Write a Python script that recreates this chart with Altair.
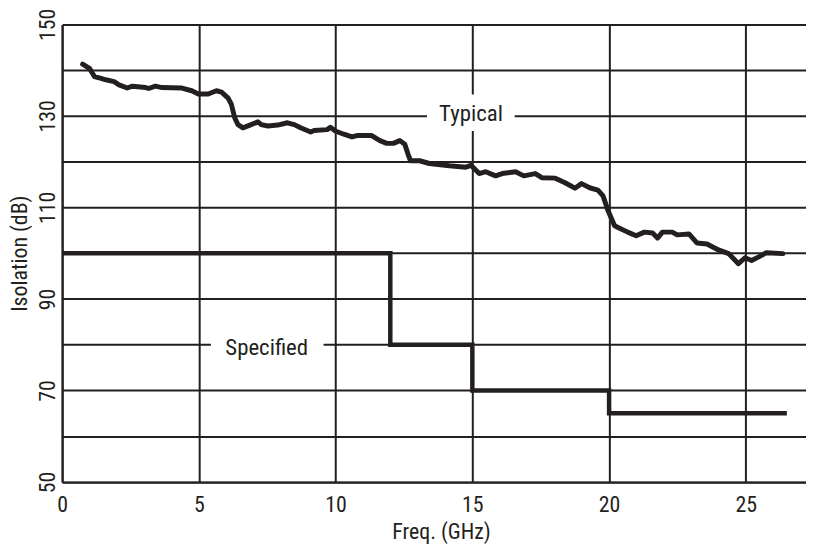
import altair as alt
import pandas as pd

# ---- data ----
typ_freq = [0.75, 1.00, 1.18, 1.36, 1.60, 1.90, 2.08, 2.38, 2.57, 3.05,
            3.17, 3.41, 3.65, 4.38, 4.74, 4.98, 5.34, 5.64, 5.83, 6.07,
            6.19, 6.31, 6.43, 6.61, 6.91, 7.16, 7.28, 7.52, 7.88, 8.24,
            8.49, 8.72, 9.09, 9.21, 9.69, 9.81, 9.99, 10.30, 10.60, 10.78,
            11.32, 11.62, 11.87, 12.11, 12.35, 12.53, 12.65, 12.74, 13.07, 13.43,
            14.16, 14.76, 14.95, 15.25, 15.49, 15.85, 16.09, 16.58, 16.88, 17.30,
            17.54, 18.03, 18.39, 18.75, 18.99, 19.29, 19.59, 19.78, 19.96, 20.20,
            20.44, 20.68, 20.99, 21.29, 21.59, 21.77, 21.95, 22.31, 22.49, 22.92,
            23.22, 23.58, 24.00, 24.37, 24.73, 24.97, 25.21, 25.51, 25.75, 26.36]
typ_iso = [141.3, 140.4, 138.6, 138.3, 137.9, 137.5, 136.8, 136.1, 136.5, 136.2,
           136.0, 136.5, 136.2, 136.1, 135.5, 134.8, 134.8, 135.5, 135.2, 133.9,
           132.5, 129.6, 128.1, 127.4, 128.1, 128.7, 128.1, 127.8, 128.0, 128.5,
           128.1, 127.4, 126.5, 126.8, 127.0, 127.5, 126.7, 126.0, 125.4, 125.7,
           125.7, 124.6, 124.0, 124.0, 124.6, 123.8, 121.6, 120.2, 120.2, 119.6,
           119.1, 118.8, 119.2, 117.4, 117.8, 116.9, 117.4, 117.8, 116.9, 117.4,
           116.5, 116.4, 115.4, 114.2, 115.2, 114.3, 113.8, 112.5, 109.3, 106.0,
           105.3, 104.6, 103.8, 104.6, 104.4, 103.3, 104.6, 104.6, 104.0, 104.2,
           102.2, 102.0, 100.7, 99.9, 97.7, 99.0, 98.4, 99.3, 100.1, 99.9]

spec_freq = [0, 12, 15, 20, 26.5]
spec_iso = [100, 80, 70, 65, 65]

x_ticks = [0, 5, 10, 15, 20, 25]
y_grid = [50, 60, 70, 80, 90, 100, 110, 120, 130, 140, 150]

label_text = ["Typical", "Specified"]
label_freq = [14.95, 7.48]
label_iso = [128.9, 77.7]
gap_x1 = [13.34, 5.44]
gap_x2 = [16.55, 9.56]
gap_y1 = [126.7, 77.5]
gap_y2 = [134.7, 82.5]

# ---- tables ----
typ_df = pd.DataFrame({"freq": typ_freq, "iso": typ_iso})
spec_df = pd.DataFrame({"freq": spec_freq, "iso": spec_iso})
lab_df = pd.DataFrame({"text": label_text, "freq": label_freq, "iso": label_iso,
                       "x1": gap_x1, "x2": gap_x2, "y1": gap_y1, "y2": gap_y2})

FONT = "Liberation Sans Narrow, Roboto Condensed, DejaVu Sans Condensed, sans-serif"
INK = "#231f20"

xscale = alt.Scale(domain=[0, 27.2], nice=False, zero=False)
yscale = alt.Scale(domain=[50, 150], nice=False, zero=False)

xaxis = alt.Axis(values=x_ticks, grid=True, gridColor=INK, gridWidth=2, gridOpacity=1,
                 domain=True, domainColor=INK, domainWidth=2, ticks=False, tickSize=0,
                 labelFont=FONT, labelFontSize=22, labelColor=INK, labelPadding=29.5,
                 labelBaseline="alphabetic", labelAlign="center",
                 title="Freq. (GHz)", titleFont=FONT, titleFontSize=22,
                 titleFontWeight="normal", titleColor=INK, titleX=381.5, titleY=57.5,
                 titleAlign="center", titleBaseline="alphabetic")

yaxis = alt.Axis(values=y_grid, grid=True, gridColor=INK, gridWidth=2, gridOpacity=1,
                 domain=True, domainColor=INK, domainWidth=2, ticks=False, tickSize=0,
                 labelExpr="datum.value % 20 == 10 ? datum.label : ''",
                 labelFont=FONT, labelFontSize=22, labelColor=INK, labelPadding=8,
                 labelAngle=270, labelAlign="center", labelBaseline="alphabetic",
                 title="Isolation (dB)", titleFont=FONT, titleFontSize=22,
                 titleFontWeight="normal", titleColor=INK, titleAngle=270,
                 titleX=-36, titleY=230.3, titleAlign="center", titleBaseline="alphabetic")

base_typ = alt.Chart(typ_df).mark_line(color=INK, strokeWidth=5, strokeCap="round",
                                       strokeJoin="round").encode(
    x=alt.X("freq:Q", scale=xscale, axis=xaxis),
    y=alt.Y("iso:Q", scale=yscale, axis=yaxis),
)

spec_line = alt.Chart(spec_df).mark_line(color=INK, strokeWidth=4.5, interpolate="step-after",
                                         strokeJoin="miter").encode(
    x=alt.X("freq:Q", scale=xscale),
    y=alt.Y("iso:Q", scale=yscale),
)

gaps = alt.Chart(lab_df).mark_rect(color="white").encode(
    x=alt.X("x1:Q", scale=xscale), x2="x2:Q",
    y=alt.Y("y1:Q", scale=yscale), y2="y2:Q",
)

texts = alt.Chart(lab_df).mark_text(font=FONT, fontSize=23, color=INK, align="center",
                                    baseline="alphabetic").encode(
    x=alt.X("freq:Q", scale=xscale),
    y=alt.Y("iso:Q", scale=yscale),
    text="text:N",
)

chart = alt.layer(base_typ, spec_line, gaps, texts).properties(
    width=749, height=460.6,
    padding={"left": 54.5, "top": 14.7, "right": 0, "bottom": 60.7},
    autosize=alt.AutoSizeParams(type="none"),
).configure_view(stroke=None).configure(background="white")

chart.save("out.html", embed_options={"renderer": "svg", "actions": False})
